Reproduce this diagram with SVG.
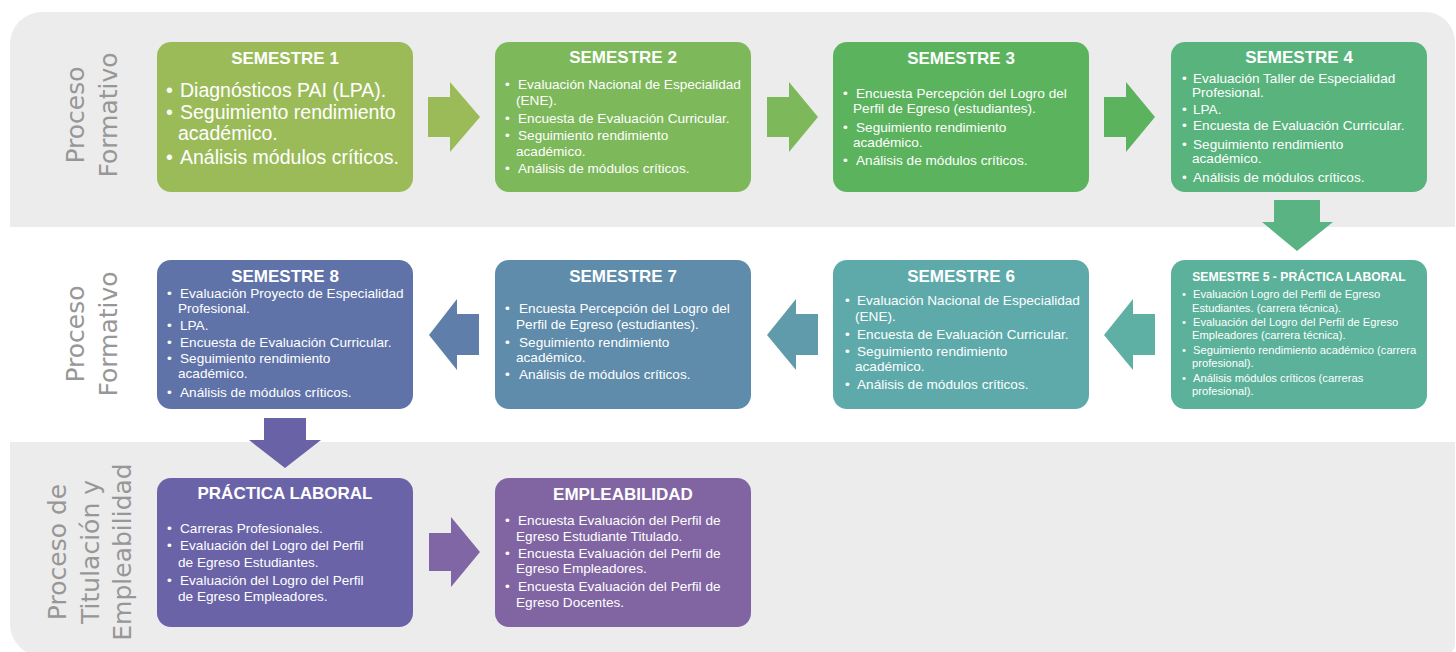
<svg xmlns="http://www.w3.org/2000/svg" width="1456" height="652" viewBox="0 0 1456 652">
<style>
.box{stroke:none}
.t{font-family:"Liberation Sans",Arial,sans-serif;font-weight:bold;font-size:17px;fill:#fff;text-anchor:middle}
.t5{font-family:"Liberation Sans",Arial,sans-serif;font-weight:bold;font-size:12.2px;fill:#fff;text-anchor:middle}
.b{font-family:"Liberation Sans",Arial,sans-serif;font-size:13.6px;fill:#fff}
.b1{font-family:"Liberation Sans",Arial,sans-serif;font-size:19.5px;fill:#fff}
.b5{font-family:"Liberation Sans",Arial,sans-serif;font-size:11.2px;fill:#fff}
.lbl{font-family:"DejaVu Sans",sans-serif;font-size:25px;fill:#979797;text-anchor:middle}
</style>
<rect width="1456" height="652" fill="#ffffff"/>
<g id="bands">
<path d="M10,227 V44 A32,32 0 0 1 42,12 H1425 A30,30 0 0 1 1455,42 V227 Z" fill="#ececec"/>
<path d="M10,442 H1455 V644 A12,12 0 0 1 1443,656 H42 A32,32 0 0 1 10,624 Z" fill="#ececec"/>
</g>
<g id="labels">
<text class="lbl" transform="translate(84,115) rotate(-90)">Proceso</text>
<text class="lbl" transform="translate(117,115) rotate(-90)">Formativo</text>
<text class="lbl" transform="translate(84,334) rotate(-90)">Proceso</text>
<text class="lbl" transform="translate(117,334) rotate(-90)">Formativo</text>
<text class="lbl" transform="translate(66,552) rotate(-90)">Proceso de</text>
<text class="lbl" transform="translate(99,552) rotate(-90)">Titulación y</text>
<text class="lbl" transform="translate(131,552) rotate(-90)">Empleabilidad</text>
</g>
<g id="connectors">
<polygon points="428,97 450,97 450,82 480,117 450,152 450,137 428,137" fill="#9bbb59"/>
<polygon points="767,97 789,97 789,82 818,117 789,152 789,137 767,137" fill="#7db85a"/>
<polygon points="1104,97 1126,97 1126,82 1155,117 1126,152 1126,137 1104,137" fill="#5cb35e"/>
<polygon points="1274,200 1320,200 1320,222 1333,222 1297,251 1262,222 1274,222" fill="#5ab383"/>
<polygon points="1155,314 1133,314 1133,299 1104,335 1133,370 1133,355 1155,355" fill="#5db0a3"/>
<polygon points="818,314 796,314 796,299 767,335 796,370 796,355 818,355" fill="#5f9bab"/>
<polygon points="479,314 457,314 457,299 429,335 457,370 457,355 479,355" fill="#5f7eaa"/>
<polygon points="264,418 306,418 306,440 321,440 285,468 249,440 264,440" fill="#6a62a6"/>
<polygon points="429,533 451,533 451,517 480,552 451,587 451,571 429,571" fill="#8066a4"/>
</g>
<g id="semestre1">
<rect class="box" x="157" y="42" width="256" height="150" rx="14" fill="#9bbb59"/>
<text class="t" x="285" y="64">SEMESTRE 1</text>
<text class="b1" x="166" y="97">•</text><text class="b1" x="180" y="97">Diagnósticos PAI (LPA).</text>
<text class="b1" x="166" y="119">•</text><text class="b1" x="180" y="119">Seguimiento rendimiento</text>
<text class="b1" x="178" y="140">académico.</text>
<text class="b1" x="166" y="164">•</text><text class="b1" x="180" y="164">Análisis módulos críticos.</text>
</g>
<g id="semestre2">
<rect class="box" x="495" y="42" width="256" height="150" rx="14" fill="#7db85a"/>
<text class="t" x="623" y="63">SEMESTRE 2</text>
<text class="b" x="505" y="89">•</text><text class="b" x="518" y="89">Evaluación Nacional de Especialidad</text>
<text class="b" x="516" y="105">(ENE).</text>
<text class="b" x="505" y="123">•</text><text class="b" x="518" y="123">Encuesta de Evaluación Curricular.</text>
<text class="b" x="505" y="140">•</text><text class="b" x="518" y="140">Seguimiento rendimiento</text>
<text class="b" x="516" y="156">académico.</text>
<text class="b" x="505" y="173">•</text><text class="b" x="518" y="173">Análisis de módulos críticos.</text>
</g>
<g id="semestre3">
<rect class="box" x="833" y="42" width="256" height="150" rx="14" fill="#5cb35e"/>
<text class="t" x="961" y="64">SEMESTRE 3</text>
<text class="b" x="843" y="98">•</text><text class="b" x="856" y="98">Encuesta Percepción del Logro del</text>
<text class="b" x="853" y="113">Perfil de Egreso (estudiantes).</text>
<text class="b" x="843" y="132">•</text><text class="b" x="856" y="132">Seguimiento rendimiento</text>
<text class="b" x="853" y="147">académico.</text>
<text class="b" x="843" y="165">•</text><text class="b" x="856" y="165">Análisis de módulos críticos.</text>
</g>
<g id="semestre4">
<rect class="box" x="1171" y="42" width="256" height="150" rx="14" fill="#58b37d"/>
<text class="t" x="1299" y="63">SEMESTRE 4</text>
<text class="b" x="1182" y="83">•</text><text class="b" x="1193" y="83">Evaluación Taller de Especialidad</text>
<text class="b" x="1192" y="97">Profesional.</text>
<text class="b" x="1182" y="114">•</text><text class="b" x="1193" y="114">LPA.</text>
<text class="b" x="1182" y="130">•</text><text class="b" x="1193" y="130">Encuesta de Evaluación Curricular.</text>
<text class="b" x="1182" y="149">•</text><text class="b" x="1193" y="149">Seguimiento rendimiento</text>
<text class="b" x="1192" y="163">académico.</text>
<text class="b" x="1182" y="182">•</text><text class="b" x="1193" y="182">Análisis de módulos críticos.</text>
</g>
<g id="semestre5">
<rect class="box" x="1171" y="260" width="256" height="149" rx="14" fill="#5bb199"/>
<text class="t5" x="1299" y="281">SEMESTRE 5 - PRÁCTICA LABORAL</text>
<text class="b5" x="1182" y="298">•</text><text class="b5" x="1193" y="298">Evaluación Logro del Perfil de Egreso</text>
<text class="b5" x="1192" y="312">Estudiantes. (carrera técnica).</text>
<text class="b5" x="1182" y="326">•</text><text class="b5" x="1193" y="326">Evaluación del Logro del Perfil de Egreso</text>
<text class="b5" x="1192" y="339">Empleadores (carrera técnica).</text>
<text class="b5" x="1182" y="354">•</text><text class="b5" x="1193" y="354">Seguimiento rendimiento académico (carrera</text>
<text class="b5" x="1192" y="367">profesional).</text>
<text class="b5" x="1182" y="382">•</text><text class="b5" x="1193" y="382">Análisis módulos críticos (carreras</text>
<text class="b5" x="1192" y="395">profesional).</text>
</g>
<g id="semestre6">
<rect class="box" x="833" y="260" width="256" height="149" rx="14" fill="#5eaaab"/>
<text class="t" x="961" y="282">SEMESTRE 6</text>
<text class="b" x="845" y="305">•</text><text class="b" x="857" y="305">Evaluación Nacional de Especialidad</text>
<text class="b" x="855" y="321">(ENE).</text>
<text class="b" x="845" y="339">•</text><text class="b" x="857" y="339">Encuesta de Evaluación Curricular.</text>
<text class="b" x="845" y="356">•</text><text class="b" x="857" y="356">Seguimiento rendimiento</text>
<text class="b" x="855" y="371">académico.</text>
<text class="b" x="845" y="389">•</text><text class="b" x="857" y="389">Análisis de módulos críticos.</text>
</g>
<g id="semestre7">
<rect class="box" x="495" y="260" width="256" height="149" rx="14" fill="#5f8cab"/>
<text class="t" x="623" y="282">SEMESTRE 7</text>
<text class="b" x="505" y="313">•</text><text class="b" x="519" y="313">Encuesta Percepción del Logro del</text>
<text class="b" x="516" y="329">Perfil de Egreso (estudiantes).</text>
<text class="b" x="505" y="347">•</text><text class="b" x="519" y="347">Seguimiento rendimiento</text>
<text class="b" x="516" y="362">académico.</text>
<text class="b" x="505" y="379">•</text><text class="b" x="519" y="379">Análisis de módulos críticos.</text>
</g>
<g id="semestre8">
<rect class="box" x="157" y="260" width="256" height="149" rx="14" fill="#5f73a9"/>
<text class="t" x="285" y="282">SEMESTRE 8</text>
<text class="b" x="167" y="298">•</text><text class="b" x="180" y="298">Evaluación Proyecto de Especialidad</text>
<text class="b" x="178" y="313">Profesional.</text>
<text class="b" x="167" y="330">•</text><text class="b" x="180" y="330">LPA.</text>
<text class="b" x="167" y="347">•</text><text class="b" x="180" y="347">Encuesta de Evaluación Curricular.</text>
<text class="b" x="167" y="363">•</text><text class="b" x="180" y="363">Seguimiento rendimiento</text>
<text class="b" x="178" y="378">académico.</text>
<text class="b" x="167" y="397">•</text><text class="b" x="180" y="397">Análisis de módulos críticos.</text>
</g>
<g id="practica-laboral">
<rect class="box" x="157" y="478" width="256" height="149" rx="14" fill="#6a63a8"/>
<text class="t" x="285" y="499">PRÁCTICA LABORAL</text>
<text class="b" x="167" y="533">•</text><text class="b" x="180" y="533">Carreras Profesionales.</text>
<text class="b" x="167" y="550">•</text><text class="b" x="180" y="550">Evaluación del Logro del Perfil</text>
<text class="b" x="178" y="567">de Egreso Estudiantes.</text>
<text class="b" x="167" y="585">•</text><text class="b" x="180" y="585">Evaluación del Logro del Perfil</text>
<text class="b" x="178" y="601">de Egreso Empleadores.</text>
</g>
<g id="empleabilidad">
<rect class="box" x="495" y="478" width="256" height="149" rx="14" fill="#8165a3"/>
<text class="t" x="623" y="500">EMPLEABILIDAD</text>
<text class="b" x="505" y="525">•</text><text class="b" x="518" y="525">Encuesta Evaluación del Perfil de</text>
<text class="b" x="516" y="541">Egreso Estudiante Titulado.</text>
<text class="b" x="505" y="558">•</text><text class="b" x="518" y="558">Encuesta Evaluación del Perfil de</text>
<text class="b" x="516" y="573">Egreso Empleadores.</text>
<text class="b" x="505" y="591">•</text><text class="b" x="518" y="591">Encuesta Evaluación del Perfil de</text>
<text class="b" x="516" y="607">Egreso Docentes.</text>
</g>
</svg>
